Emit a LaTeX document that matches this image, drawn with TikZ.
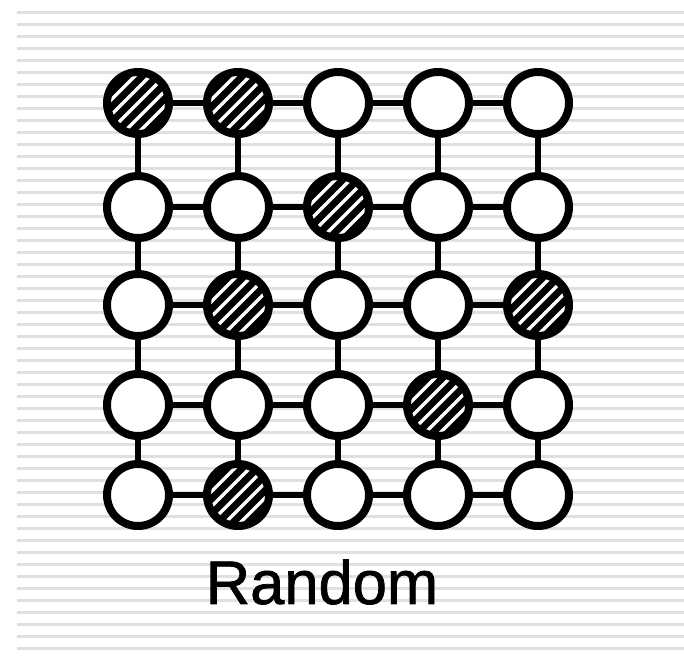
\documentclass[tikz,border=0pt]{standalone}
\usepackage{fontspec}
\setmainfont{Liberation Sans}
\newfontfamily\captionfont[FakeBold=1.2]{Liberation Sans}
\usetikzlibrary{positioning}

\tikzset{
  site/.style={circle, draw, line width=0.16cm, minimum size=1.24cm, inner sep=0pt, fill=white},
  hit/.style={site, fill=black, path picture={
      \foreach \k in {-2,...,2}
        \draw[white, line width=0.07cm] ([xshift=\k*0.3cm]path picture bounding box.center) ++(-1cm,-1cm) -- ++(2cm,2cm);}},
  link/.style={line width=0.11cm},
}

\begin{document}
\begin{tikzpicture}[x=0.02cm, y=-0.02cm]
    \useasboundingbox (0,0) rectangle (684,664);
    % Scan stripes
    \foreach \y in {12,24,...,648}
        \draw[black!12, line width=0.06cm] (17,\y) -- (684,\y);

    % Sites of the lattice
    \foreach \r/\yy/\row in {1/103/{hit,hit,site,site,site},
                             2/207/{site,site,hit,site,site},
                             3/305/{site,hit,site,site,hit},
                             4/405/{site,site,site,hit,site},
                             5/495/{site,hit,site,site,site}}
        \foreach \st [count=\c] in \row
            \node[\st] (s\r\c) at ({38+100*\c},\yy) {};

    % Bonds
    \foreach \r in {1,...,5}
        \foreach \a/\b in {1/2,2/3,3/4,4/5}
            \draw[link] (s\r\a) -- (s\r\b);
    \foreach \a/\b in {1/2,2/3,3/4,4/5}
        \foreach \c in {1,...,5}
            \draw[link] (s\a\c) -- (s\b\c);

    % Caption
    \node (caption) at (322,582) {\captionfont\fontsize{35}{40}\selectfont Random};
\end{tikzpicture}
\end{document}
